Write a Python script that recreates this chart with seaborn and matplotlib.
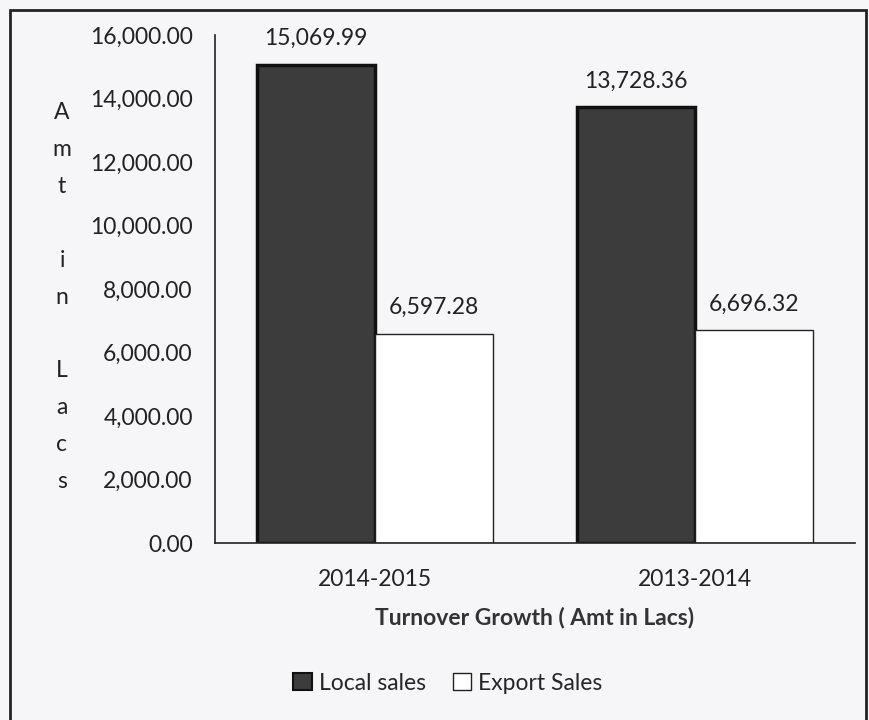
import matplotlib
matplotlib.use("Agg")
import matplotlib.pyplot as plt
import seaborn as sns
import pandas as pd
from matplotlib.patches import Rectangle, Patch
from matplotlib.ticker import FuncFormatter

categories = ["2014-2015", "2013-2014"]
local_sales = [15069.99, 13728.36]
export_sales = [6597.28, 6696.32]
series_names = ["Local sales", "Export Sales"]

df = pd.DataFrame({
    "Year": categories * 2,
    "Series": [series_names[0]] * 2 + [series_names[1]] * 2,
    "Value": local_sales + export_sales,
})

sns.set_style("white")
plt.rcParams["font.family"] = ["Lato", "DejaVu Sans"]
FS = 16.5

bg = "#f6f6f8"
fig = plt.figure(figsize=(8.7, 7.2), dpi=100, facecolor=bg)
ax = fig.add_axes([215/870, 1 - 543/720, (855-215)/870, (543-35)/720])
ax.set_facecolor(bg)

colors = {"Local sales": "#3c3c3c", "Export Sales": "#ffffff"}
sns.barplot(data=df, x="Year", y="Value", hue="Series", order=categories,
            hue_order=series_names, palette=colors, width=0.74, ax=ax,
            legend=False, saturation=1)

for cont, name in zip(ax.containers, series_names):
    for bar in cont:
        if name == "Local sales":
            bar.set_edgecolor("#111111")
            bar.set_linewidth(2.5)
        else:
            bar.set_edgecolor("#222222")
            bar.set_linewidth(1.0)
    ax.bar_label(cont, labels=[f"{v:,.2f}" for v in cont.datavalues],
                 padding=11, fontsize=FS, color="#222222")

ax.set_ylim(0, 16000)
ax.set_yticks(range(0, 16001, 2000))
ax.yaxis.set_major_formatter(FuncFormatter(lambda v, p: f"{v:,.2f}"))
ax.tick_params(axis="both", length=0, labelsize=FS, colors="#222222")
ax.tick_params(axis="y", pad=16)
ax.tick_params(axis="x", pad=19)
for s in ["top", "right"]:
    ax.spines[s].set_visible(False)
for s in ["left", "bottom"]:
    ax.spines[s].set_color("#222222")
    ax.spines[s].set_linewidth(1.2)

ax.set_ylabel("")
ax.set_xlabel("Turnover Growth ( Amt in Lacs)", fontsize=FS, fontweight="bold",
              color="#333333", labelpad=12)

fig.text(62/870, 1 - 297/720, "A\nm\nt\n\ni\nn\n\nL\na\nc\ns", ha="center",
         va="center", multialignment="center", fontsize=FS, linespacing=1.94,
         color="#222222")

handles = [Patch(facecolor="#3c3c3c", edgecolor="#111111", linewidth=1.5),
           Patch(facecolor="#ffffff", edgecolor="#222222", linewidth=1.0)]
fig.legend(handles, series_names, loc="center", bbox_to_anchor=(448/870, 1 - 683/720),
           ncol=2, frameon=False, fontsize=FS, handlelength=0.8, handleheight=0.8,
           handletextpad=0.3, columnspacing=1.2)

fig.patches.append(Rectangle((10/870, -0.05), (866-10)/870, 1.05 - 10/720 + 0.0,
                             transform=fig.transFigure, fill=False,
                             edgecolor="#222222", linewidth=2))

fig.savefig("out.png", dpi=100, facecolor=bg)
